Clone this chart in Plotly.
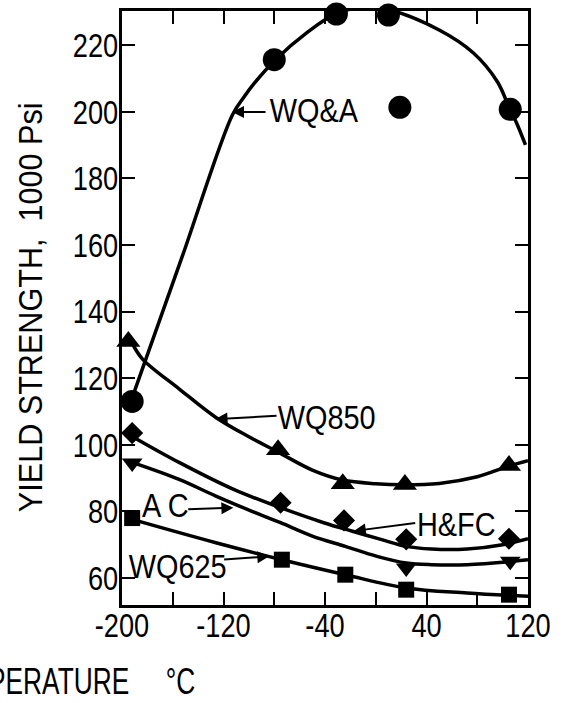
import plotly.graph_objects as go

# ---- measured data points (temperature °C, yield strength 1000 psi) ----
wqa_t = [-192, -80, -31, 10, 19, 106]
wqa_ys = [113, 215.6, 229.3, 229.0, 201.3, 200.7]
wq850_t = [-195, -77, -26, 23, 105]
wq850_ys = [131, 98.5, 88.3, 88.1, 93.8]
hfc_t = [-192, -75, -25, 24, 105]
hfc_ys = [103.5, 82.6, 77.3, 71.6, 71.8]
ac_t = [-192, 24, 106]
ac_ys = [94.5, 63.0, 65.0]
wq625_t = [-192, -74, -24, 24, 105]
wq625_ys = [78.0, 65.5, 61.0, 56.5, 55.0]

# ---- hand-drawn trend curves ----
wqa_curve_t = [-193, -153, -113, -104, -96, -79, -54, -31, -11, 11, 50, 77, 96, 106, 111, 118]
wqa_curve_ys = [113, 156, 199, 204.3, 208.4, 215.6, 223.8, 229.5, 231.2, 230.5, 224.5, 217.6, 208.9, 200.4, 196.6, 190]
wq850_curve_t = [-192, -184, -155, -126, -100, -77, -50, -26, 0, 22, 50, 80, 105, 120]
wq850_curve_ys = [130.5, 125.8, 116.8, 108.2, 102.4, 97.8, 92.4, 89.4, 88.3, 88.0, 88.4, 90.4, 93.6, 95.2]
hfc_curve_t = [-192, -155, -112, -75, -41, -19, 4, 24, 44, 72, 100, 120]
hfc_curve_ys = [102.5, 94.7, 86.6, 81.1, 76.6, 74.1, 71.6, 69.5, 68.7, 68.7, 70.0, 71.8]
ac_curve_t = [-192, -155, -126, -98, -75, -50, -24, 1, 24, 44, 72, 120]
ac_curve_ys = [94.7, 89.6, 84.6, 80.1, 76.6, 72.6, 69.5, 66.5, 64.5, 64.0, 64.0, 65.5]
wq625_curve_t = [-192, -126, -74, -24, 24, 72, 120]
wq625_curve_ys = [77.6, 70.6, 65.5, 61.0, 57.0, 55.5, 54.5]

# ---- axis ticks ----
x_tickvals = [-200, -160, -120, -80, -40, 0, 40, 80, 120]
x_ticktext = ["-200", "", "-120", "", "-40", "", "40", "", "120"]
y_tickvals = [60, 80, 100, 120, 140, 160, 180, 200, 220]
y_ticktext = ["60", "80", "100", "120", "140", "160", "180", "200", "220"]

FONT = "Liberation Sans, Arial, sans-serif"
LW = 3.5

fig = go.Figure()

curves = [
    (wqa_curve_t, wqa_curve_ys),
    (wq850_curve_t, wq850_curve_ys),
    (hfc_curve_t, hfc_curve_ys),
    (ac_curve_t, ac_curve_ys),
    (wq625_curve_t, wq625_curve_ys),
]
for cx, cy in curves:
    fig.add_trace(go.Scatter(x=cx, y=cy, mode="lines",
                             line=dict(color="black", width=LW, shape="spline", smoothing=1.0),
                             hoverinfo="skip", showlegend=False))

markers = [
    (wqa_t, wqa_ys, "circle", 23),
    (wq850_t, wq850_ys, "triangle-up", 21),
    (hfc_t, hfc_ys, "diamond", 17),
    (ac_t, ac_ys, "triangle-down", 18),
    (wq625_t, wq625_ys, "square", 16),
]
for mx, my, sym, sz in markers:
    fig.add_trace(go.Scatter(x=mx, y=my, mode="markers", cliponaxis=False,
                             marker=dict(symbol=sym, size=sz, color="black",
                                         line=dict(width=0)),
                             showlegend=False))

ann_font = dict(family=FONT, size=34, color="black")


def label(text, tx, ty, tail_x, tail_y, head_x, head_y):
    fig.add_annotation(x=tx, y=ty, xref="x", yref="y", text=text, showarrow=False,
                       font=ann_font, xanchor="center", yanchor="middle")
    fig.add_annotation(x=head_x, y=head_y, ax=tail_x, ay=tail_y, xref="x", yref="y",
                       axref="x", ayref="y", text="", showarrow=True, arrowhead=2,
                       arrowsize=1.2, arrowwidth=2, arrowcolor="black",
                       standoff=0, startstandoff=0)


label("WQ&A", -48.7, 200.6, -85.7, 199.9, -113.3, 199.9)
label("WQ850", -39.2, 108.2, -77.0, 108.7, -126.3, 107.7)
label("A C", -166.0, 81.9, -149.0, 80.6, -112.2, 81.1)
label("H&FC", 64.0, 76.1, 32.3, 76.6, -17.3, 74.1)
label("WQ625", -156.0, 63.5, -120.7, 65.5, -83.9, 66.5)

# axis titles
fig.add_annotation(xref="paper", yref="paper", x=-0.2266, y=0.5, textangle=-90,
                   text="YIELD STRENGTH,\u00a0\u00a01000 Psi", showarrow=False,
                   font=dict(family=FONT, size=34, color="black"),
                   xanchor="center", yanchor="middle")
fig.add_annotation(xref="paper", yref="paper", x=-0.144, y=-0.128,
                   text="TEMPERATURE\u00a0\u00a0\u00a0\u00a0\u00a0°C", showarrow=False,
                   font=dict(family=FONT, size=36, color="black"),
                   xanchor="center", yanchor="middle")

axis_common = dict(showline=True, linecolor="black", linewidth=3, mirror="allticks",
                   ticks="inside", ticklen=13, tickwidth=2, tickcolor="black",
                   showgrid=False, zeroline=False,
                   tickfont=dict(family=FONT, size=34, color="black"))

fig.update_xaxes(range=[-200, 120], tickmode="array", tickvals=x_tickvals, ticktext=x_ticktext,
                 ticklabelstandoff=-12, **axis_common)
fig.update_yaxes(range=[51.9, 230.2], tickmode="array", tickvals=y_tickvals, ticktext=y_ticktext,
                 ticklabelstandoff=-6, **axis_common)

fig.update_layout(width=565, height=703,
                  margin=dict(l=122, r=37, t=11, b=98, autoexpand=False),
                  paper_bgcolor="white", plot_bgcolor="white",
                  showlegend=False)

# The original uses a tall, condensed typeface; compress glyphs horizontally
# around each text's own anchor so Plotly's placement is preserved.
post_js = """
var gd = document.getElementById('{plot_id}');
function squeeze() {
  gd.querySelectorAll('svg text').forEach(function (t) {
    var s = (t.textContent || '');
    if (!s.trim()) return;
    var k = 0.8;
    if (s.indexOf('YIELD') >= 0) k = 0.9;
    else if (s.indexOf('TEMPERATURE') >= 0) k = 0.73;
    else if (t.classList.contains('annotation-text')) k = 0.85;
    var bb = t.getBBox();
    var anchor = t.getAttribute('text-anchor') || window.getComputedStyle(t).textAnchor || 'start';
    var cx = anchor === 'end' ? bb.x + bb.width : (anchor === 'middle' ? bb.x + bb.width / 2 : bb.x);
    var tr = t.getAttribute('transform') || '';
    t.setAttribute('transform', tr + ' translate(' + cx + ',0) scale(' + k + ',1) translate(' + (-cx) + ',0)');
  });
}
squeeze();
"""

fig.write_html("out.html", post_script=post_js)
